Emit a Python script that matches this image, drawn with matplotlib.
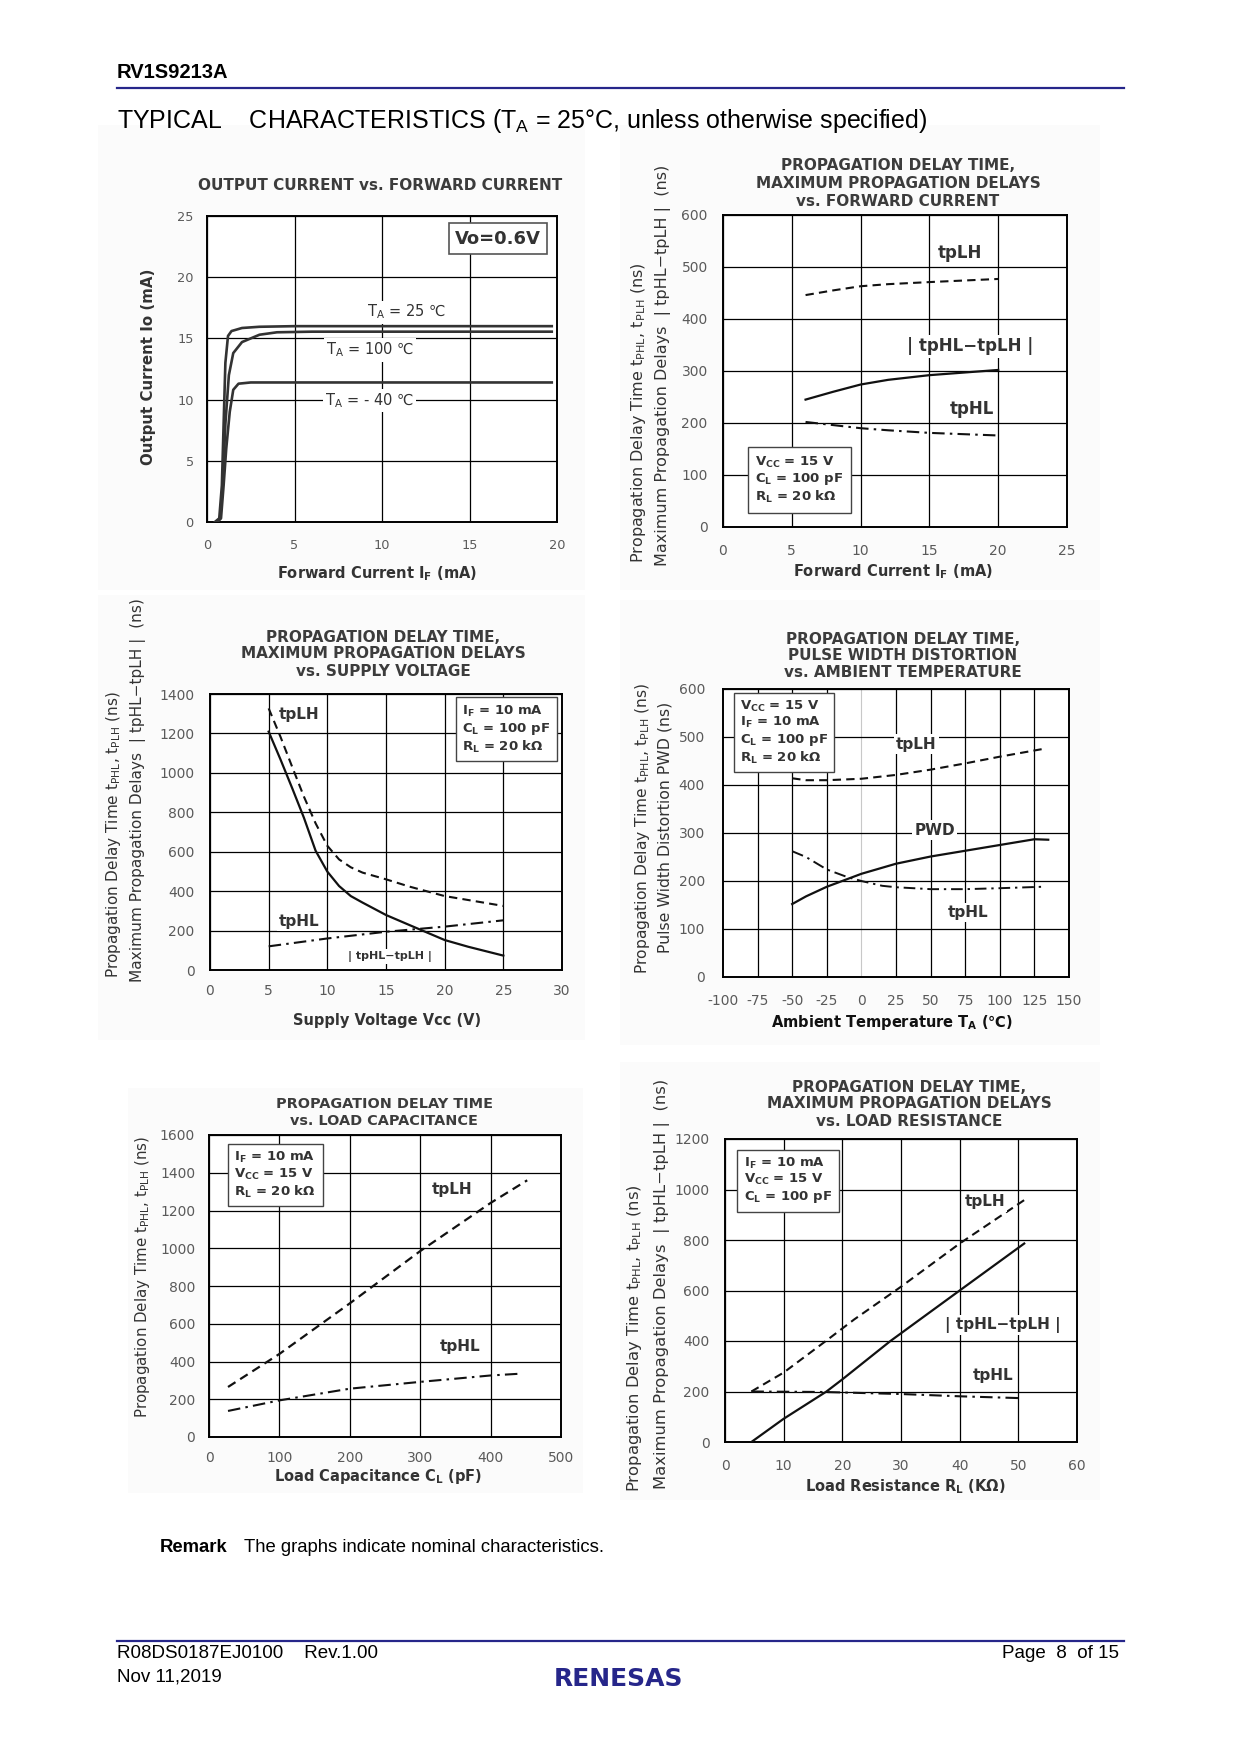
import matplotlib
matplotlib.use("Agg")
import matplotlib.pyplot as plt
from matplotlib.patches import Rectangle

# ---------------- data ----------------
# Chart 1: Output current vs forward current
c1_if_25 = [0.45, 0.7, 0.85, 0.95, 1.05, 1.2, 1.4, 2.0, 3.0, 5.0, 19.7]
c1_io_25 = [0, 0.3, 3, 8, 13, 15.2, 15.6, 15.85, 15.95, 16.0, 16.0]
c1_if_100 = [0.55, 0.75, 0.9, 1.05, 1.25, 1.5, 2.0, 3.0, 4.0, 6.0, 19.7]
c1_io_100 = [0, 0.3, 3, 8, 12, 13.8, 14.7, 15.3, 15.5, 15.55, 15.55]
c1_if_m40 = [0.6, 0.8, 0.95, 1.1, 1.3, 1.5, 1.8, 2.5, 19.7]
c1_io_m40 = [0, 0.3, 3, 6, 9, 10.8, 11.3, 11.4, 11.4]
c1_xticks = [0, 5, 10, 15, 20]
c1_yticks = [0, 5, 10, 15, 20, 25]

# Chart 2: delay vs forward current
c2_if = [6, 8, 10, 12, 15, 20]
c2_tplh = [446, 455, 463, 467, 471, 477]
c2_pd = [245, 260, 274, 283, 292, 302]
c2_tphl = [202, 196, 190, 186, 181, 176]
c2_xticks = [0, 5, 10, 15, 20, 25]
c2_yticks = [0, 100, 200, 300, 400, 500, 600]

# Chart 3: delay vs supply voltage
c3_vcc = [5, 6, 7, 8, 9, 10, 11, 12, 13, 15, 17, 20, 22, 25]
c3_tplh = [1327, 1184, 1031, 880, 744, 630, 561, 521, 494, 460, 423, 375, 355, 325]
c3_pd = [1209, 1069, 923, 773, 605, 499, 426, 375, 342, 279, 228, 152, 118, 73]
c3_vcc_hl = [5, 10, 15, 20, 25]
c3_tphl = [120, 160, 194, 220, 252]
c3_xticks = [0, 5, 10, 15, 20, 25, 30]
c3_yticks = [0, 200, 400, 600, 800, 1000, 1200, 1400]

# Chart 4: delay / PWD vs ambient temperature
c4_ta_lh = [-50, -40, -25, 0, 25, 50, 75, 100, 131]
c4_tplh = [414, 410, 410, 413, 421, 432, 445, 459, 475]
c4_ta_pwd = [-50, -40, -25, 0, 25, 50, 75, 100, 125, 135]
c4_pwd = [152, 168, 188, 215, 236, 251, 263, 275, 287, 286]
c4_ta_hl = [-50, -40, -25, -10, 0, 15, 25, 50, 75, 100, 131]
c4_tphl = [262, 250, 224, 208, 200, 190, 187, 183, 183, 185, 188]
c4_xticks = [-100, -75, -50, -25, 0, 25, 50, 75, 100, 125, 150]
c4_yticks = [0, 100, 200, 300, 400, 500, 600]

# Chart 5: delay vs load capacitance
c5_cl_lh = [27, 100, 200, 300, 400, 452]
c5_tplh = [265, 440, 708, 985, 1240, 1360]
c5_cl_hl = [27, 100, 200, 300, 400, 445]
c5_tphl = [138, 194, 256, 292, 326, 336]
c5_xticks = [0, 100, 200, 300, 400, 500]
c5_yticks = [0, 200, 400, 600, 800, 1000, 1200, 1400, 1600]

# Chart 6: delay vs load resistance
c6_rl_lh = [4.5, 10, 17.3, 22, 30, 40, 51]
c6_tplh = [200, 275, 402, 485, 615, 786, 958]
c6_rl_pd = [4.5, 10, 17.3, 20, 28.2, 40, 51]
c6_pd = [0, 92, 200, 248, 400, 600, 786]
c6_rl_hl = [4.5, 17, 30, 40, 50]
c6_tphl = [200, 198, 190, 181, 174]
c6_xticks = [0, 10, 20, 30, 40, 50, 60]
c6_yticks = [0, 200, 400, 600, 800, 1000, 1200]

# ---------------- figure ----------------
W, H = 1240, 1754
fig = plt.figure(figsize=(12.4, 17.54), dpi=100)
fig.patch.set_facecolor("white")

NAVY = "#26268a"
TITLE_C = "#3c3c3c"
TICK_C = "#5a5a5a"
LBL_C = "#333333"
CURVE_C = "#111111"
ARIAL = ["Liberation Sans", "DejaVu Sans"]

DASH = (0, (4, 2.5))
DASHDOT = (0, (6, 2.5, 1.2, 2.5))


def fx(x):
    return x / W


def fy(y):
    return 1 - y / H


def px_ax(l, t, r, b):
    return fig.add_axes([fx(l), fy(b), (r - l) / W, (b - t) / H])


def ftext(x, y, s, **kw):
    return fig.text(fx(x), fy(y), s, **kw)


def bg(l, t, r, b):
    fig.patches.append(Rectangle((fx(l), fy(b)), (r - l) / W, (b - t) / H,
                                 transform=fig.transFigure, facecolor="#fbfbfb",
                                 edgecolor="none", zorder=-10))


def style(ax, xticks, yticks, padx, pady, fs=10, grid_x=True):
    ax.set_xlim(xticks[0], xticks[-1])
    ax.set_ylim(yticks[0], yticks[-1])
    ax.set_xticks(xticks)
    ax.set_yticks(yticks)
    ax.set_xticklabels([str(t) for t in xticks])
    ax.set_yticklabels([str(t) for t in yticks])
    ax.tick_params(axis="x", length=0, colors=TICK_C, labelsize=fs, pad=padx)
    ax.tick_params(axis="y", length=0, colors=TICK_C, labelsize=fs, pad=pady)
    ax.set_axisbelow(True)
    ax.grid(True, axis="y", color="black", lw=0.9)
    if grid_x:
        ax.grid(True, axis="x", color="black", lw=0.9)
    for sp in ax.spines.values():
        sp.set_linewidth(1.4)
        sp.set_color("black")
    ax.set_facecolor("white")


def boxtext(ax, x, y, s, fs=9.5, pad=0.55):
    ax.text(x, y, s, fontsize=fs, fontweight="bold", color=LBL_C, ha="left", va="top",
            linespacing=1.15, zorder=6,
            bbox=dict(boxstyle="square,pad=%s" % pad, fc="white", ec="#444444", lw=1.0))


def lab(ax, x, y, s, fs=11, weight="bold"):
    ax.text(x, y, s, fontsize=fs, fontweight=weight, color=LBL_C, ha="center", va="center",
            zorder=5, bbox=dict(boxstyle="square,pad=0.15", fc="white", ec="none"))


YL1 = r"Propagation Delay Time t$_{\mathregular{PHL}}$, t$_{\mathregular{PLH}}$ (ns)"
YL2 = "Maximum Propagation Delays  | tpHL\u2212tpLH |  (ns)"

# faint backgrounds of the pasted chart images
bg(98, 125, 585, 590)
bg(620, 125, 1100, 590)
bg(98, 595, 585, 1040)
bg(620, 600, 1100, 1045)
bg(128, 1088, 583, 1493)
bg(620, 1062, 1100, 1500)

# ---------------- header / footer ----------------
ftext(117, 72, "RV1S9213A", fontsize=14.5, fontweight="bold", family=ARIAL, va="center", ha="left")
fig.add_artist(plt.Line2D([fx(117), fx(1124)], [fy(88), fy(88)], color=NAVY, lw=1.6))
ftext(117, 121, "TYPICAL    CHARACTERISTICS (T$_{\\mathregular{A}}$ = 25\u00b0C, unless otherwise specified)",
      fontsize=18, family=ARIAL, va="center", ha="left")

ftext(160, 1547, "Remark", fontsize=13.3, fontweight="bold", family=ARIAL, va="center", ha="left")
ftext(244, 1547, "The graphs indicate nominal characteristics.", fontsize=13.3, family=ARIAL,
      va="center", ha="left")
fig.add_artist(plt.Line2D([fx(117), fx(1124)], [fy(1641), fy(1641)], color=NAVY, lw=1.6))
ftext(117, 1654, "R08DS0187EJ0100    Rev.1.00", fontsize=13.5, family=ARIAL, va="center", ha="left")
ftext(117, 1677, "Nov 11,2019", fontsize=13.5, family=ARIAL, va="center", ha="left")
ftext(1119, 1654, "Page  8  of 15", fontsize=13.5, family=ARIAL, va="center", ha="right")
ftext(619, 1679, "RENESAS", fontsize=18, fontweight="bold", color=NAVY, va="center", ha="center",
      family="DejaVu Sans")

# ---------------- Chart 1 ----------------
ax1 = px_ax(207, 216, 557, 522)
style(ax1, c1_xticks, c1_yticks, padx=12, pady=9.5, fs=9.3)
for xs, ys in [(c1_if_25, c1_io_25), (c1_if_100, c1_io_100), (c1_if_m40, c1_io_m40)]:
    ax1.plot(xs, ys, color="#333333", lw=1.9, zorder=4, solid_joinstyle="round")
lab(ax1, 11.4, 17.15, "T$_{\\mathregular{A}}$ = 25 \u2103", fs=10.5, weight="normal")
lab(ax1, 9.3, 14.05, "T$_{\\mathregular{A}}$ = 100 \u2103", fs=10.5, weight="normal")
lab(ax1, 9.3, 9.9, "T$_{\\mathregular{A}}$ = - 40 \u2103", fs=10.5, weight="normal")
ax1.text(16.63, 23.15, "Vo=0.6V", fontsize=13, fontweight="bold", color=LBL_C, ha="center",
         va="center", zorder=6,
         bbox=dict(boxstyle="square,pad=0.35", fc="white", ec="#555555", lw=1.2))
ftext(380, 186, "OUTPUT CURRENT vs. FORWARD CURRENT", fontsize=11, fontweight="bold",
      color=TITLE_C, ha="center", va="center")
ftext(149, 367, "Output Current Io (mA)", fontsize=10.8, fontweight="bold", color=LBL_C,
      rotation=90, ha="center", va="center")
ftext(377, 574, r"Forward Current I$_{\mathbf{F}}$ (mA)", fontsize=10.5, fontweight="bold",
      color=LBL_C, ha="center", va="center")

# ---------------- Chart 2 ----------------
ax2 = px_ax(723, 215, 1067, 527)
style(ax2, c2_xticks, c2_yticks, padx=12, pady=11)
ax2.plot(c2_if, c2_tplh, color=CURVE_C, lw=1.5, ls=DASH, zorder=4)
ax2.plot(c2_if, c2_pd, color=CURVE_C, lw=1.6, zorder=4)
ax2.plot(c2_if, c2_tphl, color=CURVE_C, lw=1.5, ls=DASHDOT, zorder=4)
lab(ax2, 17.2, 527, "tpLH", fs=12)
lab(ax2, 18.0, 348, "| tpHL\u2212tpLH |", fs=12)
lab(ax2, 18.1, 226, "tpHL", fs=12)
boxtext(ax2, 2.35, 139, "V$_{\\mathbf{CC}}$ = 15 V\nC$_{\\mathbf{L}}$ = 100 pF\nR$_{\\mathbf{L}}$ = 20 k\u03a9")
for yy, s in zip([166, 184, 202], ["PROPAGATION DELAY TIME,", "MAXIMUM PROPAGATION DELAYS",
                                   "vs. FORWARD CURRENT"]):
    ftext(898, yy, s, fontsize=11, fontweight="bold", color=TITLE_C, ha="center", va="center")
ftext(638, 413, YL1, fontsize=11.5, color=LBL_C, rotation=90, ha="center", va="center")
ftext(663, 365, YL2, fontsize=11.5, color=LBL_C, rotation=90, ha="center", va="center")
ftext(893, 572, r"Forward Current I$_{\mathbf{F}}$ (mA)", fontsize=10.5, fontweight="bold",
      color=LBL_C, ha="center", va="center")

# ---------------- Chart 3 ----------------
ax3 = px_ax(210, 694, 562, 970)
style(ax3, c3_xticks, c3_yticks, padx=10, pady=11)
ax3.plot(c3_vcc, c3_tplh, color=CURVE_C, lw=1.5, ls=DASH, zorder=4)
ax3.plot(c3_vcc, c3_pd, color=CURVE_C, lw=1.6, zorder=4)
ax3.plot(c3_vcc_hl, c3_tphl, color=CURVE_C, lw=1.5, ls=DASHDOT, zorder=4)
lab(ax3, 7.6, 1297, "tpLH", fs=11)
lab(ax3, 7.6, 248, "tpHL", fs=11)
lab(ax3, 15.3, 68, "| tpHL\u2212tpLH |", fs=8)
boxtext(ax3, 21.5, 1350, "I$_{\\mathbf{F}}$ = 10 mA\nC$_{\\mathbf{L}}$ = 100 pF\nR$_{\\mathbf{L}}$ = 20 k\u03a9",
        fs=9.5, pad=0.5)
for yy, s in zip([637, 654, 672], ["PROPAGATION DELAY TIME,", "MAXIMUM PROPAGATION DELAYS",
                                   "vs. SUPPLY VOLTAGE"]):
    ftext(383, yy, s, fontsize=11, fontweight="bold", color=TITLE_C, ha="center", va="center")
ftext(114, 835, YL1, fontsize=11, color=LBL_C, rotation=90, ha="center", va="center")
ftext(138, 790, YL2, fontsize=11.1, color=LBL_C, rotation=90, ha="center", va="center")
ftext(387, 1020, "Supply Voltage Vcc (V)", fontsize=10.5, fontweight="bold",
      color=LBL_C, ha="center", va="center")

# ---------------- Chart 4 ----------------
ax4 = px_ax(723, 689, 1069, 977)
style(ax4, c4_xticks, c4_yticks, padx=12, pady=13, grid_x=False)
for t in c4_xticks[1:-1]:
    ax4.axvline(t, color="#c8c8c8" if t == 0 else "black", lw=0.9 if t != 0 else 0.8, zorder=0.5)
ax4.plot(c4_ta_lh, c4_tplh, color=CURVE_C, lw=1.5, ls=DASH, zorder=4)
ax4.plot(c4_ta_pwd, c4_pwd, color=CURVE_C, lw=1.6, zorder=4)
ax4.plot(c4_ta_hl, c4_tphl, color=CURVE_C, lw=1.4, ls=DASHDOT, zorder=4)
lab(ax4, 39.6, 485, "tpLH", fs=11)
lab(ax4, 52.8, 306, "PWD", fs=11)
lab(ax4, 77.3, 134, "tpHL", fs=11)
boxtext(ax4, -87.5, 580,
        "V$_{\\mathbf{CC}}$ = 15 V\nI$_{\\mathbf{F}}$ = 10 mA\nC$_{\\mathbf{L}}$ = 100 pF\nR$_{\\mathbf{L}}$ = 20 k\u03a9",
        fs=9.5, pad=0.45)
for yy, s in zip([639, 656, 673], ["PROPAGATION DELAY TIME,", "PULSE WIDTH DISTORTION",
                                   "vs. AMBIENT TEMPERATURE"]):
    ftext(903, yy, s, fontsize=11, fontweight="bold", color=TITLE_C, ha="center", va="center")
ftext(643, 828, YL1, fontsize=11.2, color=LBL_C, rotation=90, ha="center", va="center")
ftext(665, 827, "Pulse Width Distortion PWD (ns)", fontsize=11.3, color=LBL_C, rotation=90,
      ha="center", va="center")
ftext(892, 1023, "Ambient Temperature T$_{\\mathbf{A}}$ (\u2103)", fontsize=10.5, fontweight="bold",
      color="#111111", ha="center", va="center")

# ---------------- Chart 5 ----------------
ax5 = px_ax(209, 1135, 561, 1437)
style(ax5, c5_xticks, c5_yticks, padx=10, pady=10)
ax5.plot(c5_cl_lh, c5_tplh, color=CURVE_C, lw=1.6, ls=DASH, zorder=4)
ax5.plot(c5_cl_hl, c5_tphl, color=CURVE_C, lw=1.5, ls=DASHDOT, zorder=4)
lab(ax5, 345, 1310, "tpLH", fs=11)
lab(ax5, 356, 481, "tpHL", fs=11)
boxtext(ax5, 36, 1520, "I$_{\\mathbf{F}}$ = 10 mA\nV$_{\\mathbf{CC}}$ = 15 V\nR$_{\\mathbf{L}}$ = 20 k\u03a9",
        fs=9.5, pad=0.5)
for yy, s in zip([1104, 1121], ["PROPAGATION DELAY TIME", "vs. LOAD CAPACITANCE"]):
    ftext(384, yy, s, fontsize=10.4, fontweight="bold", color=TITLE_C, ha="center", va="center")
ftext(142, 1277, YL1, fontsize=10.8, color=LBL_C, rotation=90, ha="center", va="center")
ftext(378, 1476, "Load Capacitance C$_{\\mathbf{L}}$ (pF)", fontsize=10.5, fontweight="bold",
      color=LBL_C, ha="center", va="center")

# ---------------- Chart 6 ----------------
ax6 = px_ax(725, 1139, 1077, 1442)
style(ax6, c6_xticks, c6_yticks, padx=12, pady=11)
ax6.plot(c6_rl_lh, c6_tplh, color=CURVE_C, lw=1.5, ls=DASH, zorder=4)
ax6.plot(c6_rl_pd, c6_pd, color=CURVE_C, lw=1.6, zorder=4)
ax6.plot(c6_rl_hl, c6_tphl, color=CURVE_C, lw=1.5, ls=DASHDOT, zorder=4)
lab(ax6, 44.3, 951, "tpLH", fs=11)
lab(ax6, 47.4, 464, "| tpHL\u2212tpLH |", fs=11)
lab(ax6, 45.7, 262, "tpHL", fs=11)
boxtext(ax6, 3.2, 1135, "I$_{\\mathbf{F}}$ = 10 mA\nV$_{\\mathbf{CC}}$ = 15 V\nC$_{\\mathbf{L}}$ = 100 pF",
        fs=9.5, pad=0.5)
for yy, s in zip([1087, 1104, 1122], ["PROPAGATION DELAY TIME,", "MAXIMUM PROPAGATION DELAYS",
                                      "vs. LOAD RESISTANCE"]):
    ftext(909, yy, s, fontsize=11, fontweight="bold", color=TITLE_C, ha="center", va="center")
ftext(635, 1338, YL1, fontsize=11.8, color=LBL_C, rotation=90, ha="center", va="center")
ftext(662, 1284, YL2, fontsize=11.8, color=LBL_C, rotation=90, ha="center", va="center")
ftext(905, 1487, "Load Resistance R$_{\\mathbf{L}}$ (K\u03a9)", fontsize=10.5, fontweight="bold",
      color=LBL_C, ha="center", va="center")

fig.savefig("out.png", dpi=100, facecolor="white")
